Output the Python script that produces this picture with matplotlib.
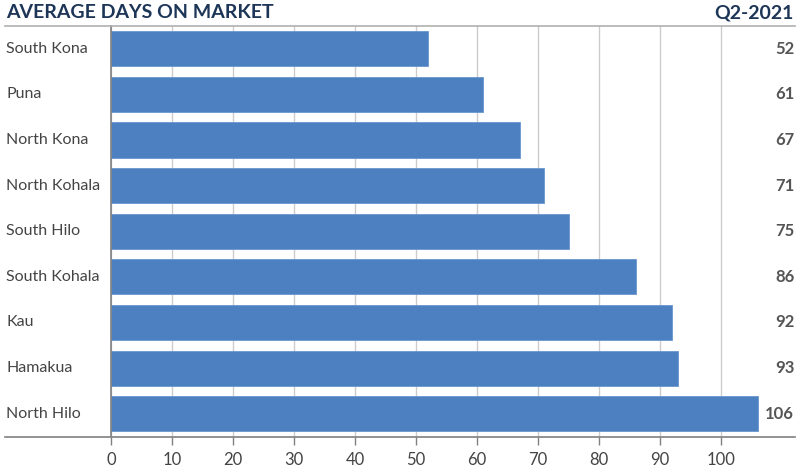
import matplotlib
matplotlib.use("Agg")
import matplotlib.pyplot as plt
from matplotlib.lines import Line2D

categories = ["South Kona", "Puna", "North Kona", "North Kohala", "South Hilo",
              "South Kohala", "Kau", "Hamakua", "North Hilo"]
values = [52, 61, 67, 71, 75, 86, 92, 93, 106]
xticks = [0, 10, 20, 30, 40, 50, 60, 70, 80, 90, 100]
title = "AVERAGE DAYS ON MARKET"
period = "Q2-2021"

W, H = 800, 476
fig = plt.figure(figsize=(W / 100, H / 100), dpi=100)
left_px, right_px, top_px, bot_px = 111, 794.2, 26, 436.5
ax = fig.add_axes([left_px / W, 1 - bot_px / H, (right_px - left_px) / W, (bot_px - top_px) / H])

bar_color = "#4d80c0"
navy = "#1d3557"
txt = "#444444"
grid_c = "#cccccc"
axis_c = "#808080"

y = list(range(len(categories)))
ax.barh(y, values, height=0.77, color=bar_color, edgecolor="#6a96cf", linewidth=0.6, zorder=3)
ax.set_ylim(len(categories) - 0.5, -0.5)
ax.set_xlim(0, 112)
ax.set_xticks(xticks)
ax.set_xticklabels([str(t) for t in xticks], fontsize=12, color=txt, family="Lato")
ax.tick_params(axis="x", length=6, width=1, color=axis_c, pad=5, direction="out")
ax.set_yticks([])
ax.grid(axis="x", color=grid_c, linewidth=1, zorder=0)
for s in ["top", "right", "bottom"]:
    ax.spines[s].set_visible(False)
ax.spines["left"].set_color(axis_c)
ax.spines["left"].set_linewidth(1.2)
ax.spines["left"].set_zorder(4)

# labels
for yi, c in enumerate(categories):
    ax.text(6 / W, yi, c, ha="left", va="center", fontsize=11.5, color=txt, family="Lato",
            transform=matplotlib.transforms.blended_transform_factory(fig.transFigure, ax.transData))
for yi, v in enumerate(values):
    ax.text(1.0, yi, str(v), ha="right", va="center", fontsize=12, color="#555555",
            fontweight="bold", family="Lato", transform=ax.get_yaxis_transform())

# horizontal rules
fig.add_artist(Line2D([5 / W, 795 / W], [1 - top_px / H] * 2, color="#b0b0b0", lw=1.2))
fig.add_artist(Line2D([5 / W, 795 / W], [1 - bot_px / H] * 2, color=axis_c, lw=1.2))

fig.text(6 / W, 1 - 13 / H, title, ha="left", va="center", fontsize=14, fontweight="bold",
         color=navy, family="Lato")
fig.text(794 / W, 1 - 13 / H, period, ha="right", va="center", fontsize=14, fontweight="bold",
         color=navy, family="Lato")

fig.savefig("out.png", dpi=100)
